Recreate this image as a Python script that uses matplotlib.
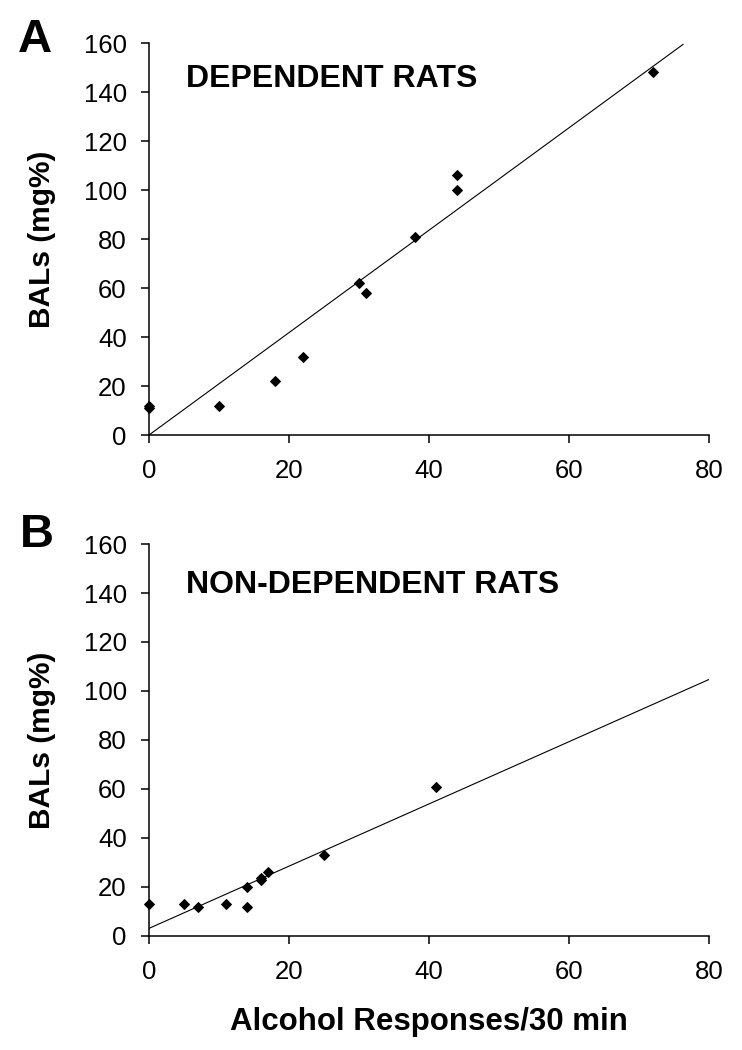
import numpy as np
import matplotlib
matplotlib.use("Agg")
import matplotlib.pyplot as plt

plt.rcParams['font.family'] = ['Liberation Sans', 'DejaVu Sans']

# Dati
# A: ratti dipendenti
dep_x = [0, 0, 10, 18, 22, 30, 31, 38, 44, 44, 72]
dep_y = [11, 12, 12, 22, 32, 62, 58, 81, 106, 100, 148]
dep_slope, dep_intercept = 2.09, 0.0
dep_line_x = [0, 76.3]

# B: ratti non dipendenti
nondep_x = [0, 5, 7, 11, 14, 14, 16, 16, 17, 25, 41]
nondep_y = [13, 13, 12, 13, 20, 12, 23, 23.5, 26, 33, 61]
nondep_slope, nondep_intercept = 1.27, 3.1
nondep_line_x = [0, 80]

x_ticks = [0, 20, 40, 60, 80]
y_ticks = [0, 20, 40, 60, 80, 100, 120, 140, 160]

fig = plt.figure(figsize=(7.42, 10.5), dpi=100)
ax_a = fig.add_axes([0.2008, 0.5857, 0.7547, 0.3733])
ax_b = fig.add_axes([0.2008, 0.1086, 0.7547, 0.3733])


def draw_panel(ax, xs, ys, slope, intercept, line_x, title, title_y):
    lx = np.array(line_x)
    ax.plot(lx, slope * lx + intercept, color='black', linewidth=0.8)
    ax.plot(xs, ys, linestyle='none', marker='D', markersize=4.8,
            color='black', markeredgewidth=0.7, clip_on=False, zorder=3)
    ax.set_xlim(0, 80)
    ax.set_ylim(0, 160)
    ax.set_xticks(x_ticks)
    ax.set_yticks(y_ticks)
    ax.spines['top'].set_visible(False)
    ax.spines['right'].set_visible(False)
    for s in ['left', 'bottom']:
        ax.spines[s].set_linewidth(1.1)
    ax.tick_params(direction='out', length=6, width=1.1, labelsize=18.5)
    ax.tick_params(axis='x', pad=11)
    ax.tick_params(axis='y', pad=10)
    ax.text(0.066, title_y, title, transform=ax.transAxes, fontsize=23,
            fontweight='bold', va='baseline', ha='left')


draw_panel(ax_a, dep_x, dep_y, dep_slope, dep_intercept, dep_line_x,
           'DEPENDENT RATS', 0.888)
draw_panel(ax_b, nondep_x, nondep_y, nondep_slope, nondep_intercept,
           nondep_line_x, 'NON-DEPENDENT RATS', 0.874)

# Lettere dei pannelli ed etichette
fig.text(0.0243, 0.9505, 'A', fontsize=34, fontweight='bold', va='baseline')
fig.text(0.027, 0.479, 'B', fontsize=34, fontweight='bold', va='baseline')
fig.text(0.0566, 0.7724, 'BALs (mg%)', rotation=90, fontsize=21.5,
         fontweight='bold', ha='center', va='center')
fig.text(0.0566, 0.2952, 'BALs (mg%)', rotation=90, fontsize=21.5,
         fontweight='bold', ha='center', va='center')
fig.text(0.578, 0.019, 'Alcohol Responses/30 min', fontsize=22.5,
         fontweight='bold', ha='center', va='baseline')

fig.savefig('out.png', dpi=100)
